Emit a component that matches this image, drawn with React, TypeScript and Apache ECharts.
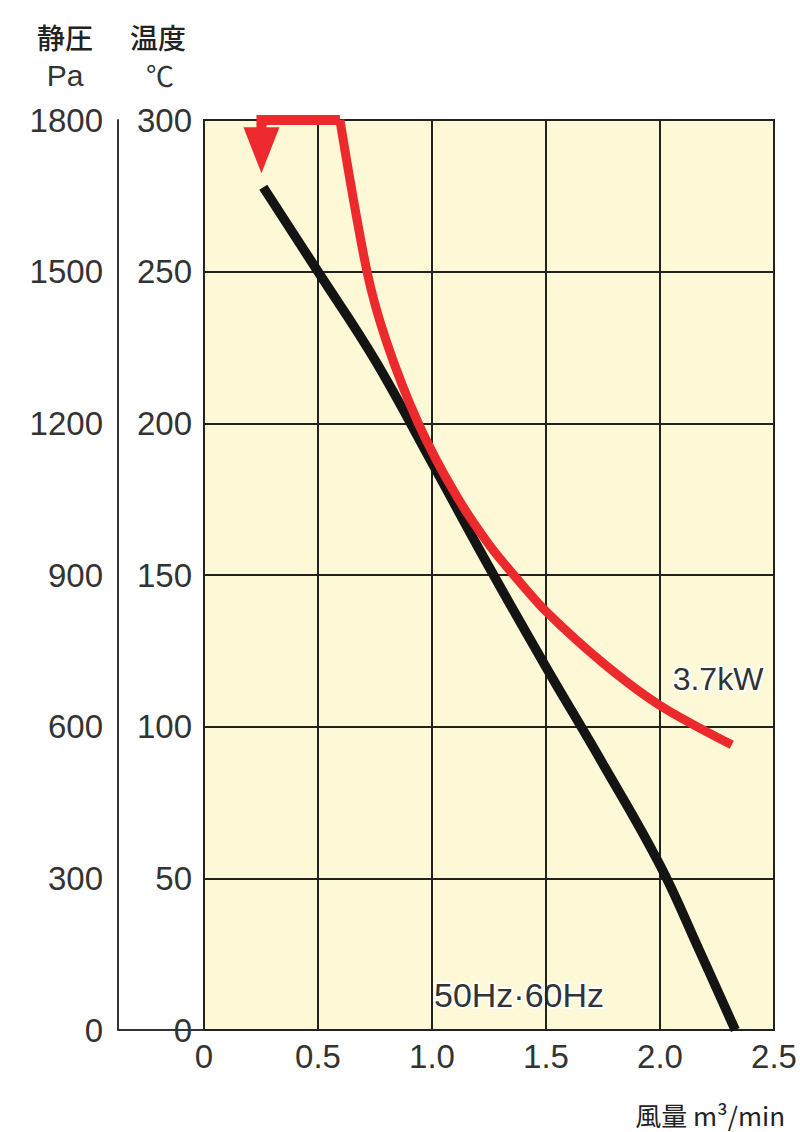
import React, { useEffect, useRef } from "react";
import * as echarts from "echarts";

// Air flow (m³/min) vs static pressure (Pa) – 50Hz·60Hz
const pressureCurve: [number, number][] = [
  [0.26, 1667], [0.5, 1500], [0.75, 1325], [1.0, 1122], [1.25, 916],
  [1.5, 718], [1.75, 526], [2.0, 326], [2.17, 160], [2.33, 0],
];
// Air flow vs temperature (°C) – 3.7kW
const tempTop: [number, number][] = [[0.252, 290], [0.252, 300], [0.596, 300]];
const tempCurve: [number, number][] = [
  [0.596, 300], [0.715, 250], [0.8, 227], [0.94, 200], [1.1, 177],
  [1.25, 160], [1.37, 149], [1.5, 138], [1.75, 121], [2.0, 107], [2.315, 94],
];
const arrowPoint: [number, number][] = [[0.252, 290]];

const xTicks = { min: 0, max: 2.5, interval: 0.5 };
const tempTicks = { min: 0, max: 300, interval: 50 };
const pressTicks = { min: 0, max: 1800, interval: 300 };

const labelPower = "3.7kW";
const labelFreq = "50Hz·60Hz";

const NUM_FONT = "'Liberation Sans', Arial, sans-serif";
const CJK_FONT = "'Noto Sans CJK JP', 'Liberation Sans', sans-serif";

export default function App() {
  const ref = useRef<HTMLDivElement>(null);
  useEffect(() => {
    if (!ref.current) return;
    const chart = echarts.init(ref.current, undefined, { renderer: "svg" });
    const txt = "#333";
    chart.setOption({
      animation: false,
      backgroundColor: "#ffffff",
      grid: {
        left: 204, right: 26, top: 120, bottom: 102,
        show: true, backgroundColor: "#fdf8d5", borderColor: "#222", borderWidth: 2,
      },
      xAxis: {
        type: "value", ...xTicks,
        axisLine: { show: false }, axisTick: { show: false },
        splitLine: { show: true, lineStyle: { color: "#222", width: 2 } },
        axisLabel: {
          color: txt, fontFamily: NUM_FONT, fontSize: 33, margin: 10,
          formatter: (v: number) => (v === 0 ? "0" : v.toFixed(1)),
        },
      },
      yAxis: [
        {
          type: "value", position: "left", ...tempTicks,
          axisLine: { show: false }, axisTick: { show: false },
          splitLine: { show: true, lineStyle: { color: "#222", width: 2 } },
          axisLabel: { color: txt, fontFamily: NUM_FONT, fontSize: 33, margin: 12, formatter: (v: number) => String(v) },
        },
        {
          type: "value", position: "left", offset: 86, ...pressTicks,
          axisLine: { show: true, lineStyle: { color: "#333", width: 2 } },
          axisTick: { show: false }, splitLine: { show: false },
          axisLabel: { color: txt, fontFamily: NUM_FONT, fontSize: 33, margin: 15, formatter: (v: number) => String(v) },
        },
      ],
      series: [
        {
          type: "line", yAxisIndex: 1, data: pressureCurve, smooth: 0.4,
          showSymbol: false, clip: false,
          lineStyle: { color: "#141414", width: 9.5, cap: "butt" },
        },
        {
          type: "line", yAxisIndex: 0, data: tempTop, smooth: false,
          showSymbol: false, clip: false,
          lineStyle: { color: "#ec2a2e", width: 10, join: "miter" },
        },
        {
          type: "line", yAxisIndex: 0, data: tempCurve, smooth: 0.3,
          showSymbol: false, clip: false,
          lineStyle: { color: "#ec2a2e", width: 9, cap: "butt" },
        },
        {
          type: "scatter", yAxisIndex: 0, data: arrowPoint,
          symbol: "path://M0,0 L36,0 L18,46 Z", symbolSize: [36, 46],
          itemStyle: { color: "#ec2a2e", opacity: 1 }, clip: false,
        },
      ],
      graphic: [
        { type: "line", shape: { x1: 118, y1: 1030, x2: 204, y2: 1030 }, style: { stroke: "#333", lineWidth: 2 } },
        { type: "text", x: 65, y: 37, style: { text: "静圧", font: `500 28px ${CJK_FONT}`, fill: "#222", align: "center", verticalAlign: "middle" } },
        { type: "text", x: 65, y: 75, style: { text: "Pa", font: `30px ${NUM_FONT}`, fill: txt, align: "center", verticalAlign: "middle" } },
        { type: "text", x: 158, y: 37, style: { text: "温度", font: `500 28px ${CJK_FONT}`, fill: "#222", align: "center", verticalAlign: "middle" } },
        { type: "text", x: 160, y: 75, style: { text: "℃", font: `28px ${CJK_FONT}`, fill: txt, align: "center", verticalAlign: "middle" } },
        { type: "text", x: 718, y: 679, style: { text: labelPower, font: `32px ${NUM_FONT}`, fill: txt, align: "center", verticalAlign: "middle", stroke: "#fff", lineWidth: 4 } },
        { type: "text", x: 519, y: 995, style: { text: labelFreq, font: `34px ${NUM_FONT}`, fill: txt, align: "center", verticalAlign: "middle", stroke: "#fff", lineWidth: 4 } },
        { type: "text", x: 785, y: 1114, style: { text: "風量 m³/min", font: `26px ${CJK_FONT}`, fill: "#222", align: "right", verticalAlign: "middle" } },
      ],
    });
    return () => chart.dispose();
  }, []);
  return (
    <div
      ref={ref}
      style={{ position: "absolute", left: 0, top: 0, width: 800, height: 1132 }}
    />
  );
}
